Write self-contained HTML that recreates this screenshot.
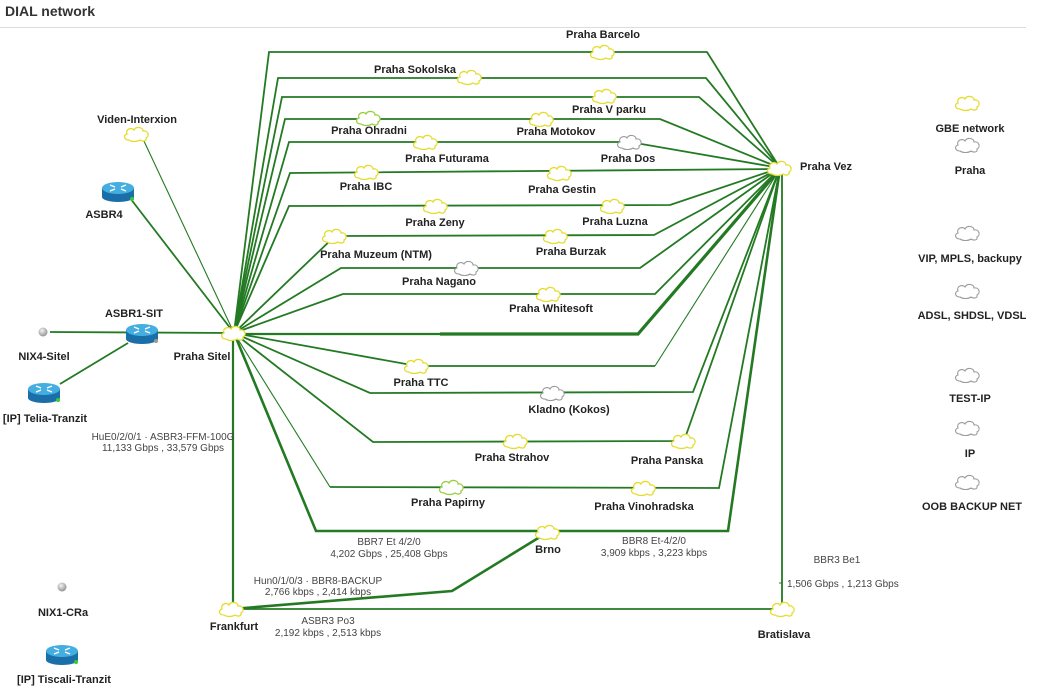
<!DOCTYPE html>
<html><head><meta charset="utf-8">
<style>
html,body{margin:0;padding:0;background:#fff;width:1038px;height:690px;overflow:hidden}
svg{display:block}
.n{font-family:"Liberation Sans",Arial,sans-serif;font-weight:bold;font-size:11px;fill:#222}
.l{font-family:"Liberation Sans",Arial,sans-serif;font-size:10px;fill:#444}
.t{font-family:"Liberation Sans",Arial,sans-serif;font-weight:bold;font-size:14px;fill:#333}
</style></head><body>
<svg width="1038" height="690" viewBox="0 0 1038 690" xmlns="http://www.w3.org/2000/svg">
<defs>
<path id="cl" d="M-8,6 C-13,6 -14,1 -10,0 C-12,-5 -5,-7 -3,-4 C-1,-8 6,-7 6,-3 C11,-4 13,2 9,4 C10,7 6,8 3,6 C0,8 -5,8 -8,6 Z"/>
<g id="rt">
<path d="M-16,-4 L-16,5 A16,5 0 0 0 16,5 L16,-4 Z" fill="#1b6fa8"/>
<ellipse cx="0" cy="-4" rx="16" ry="6" fill="#45aee0"/>
<path d="M-8,-7 L-3,-5 M8,-1 L3,-3 M-8,-1 L-3,-3 M8,-7 L3,-5" stroke="#fff" stroke-width="1.4"/>
</g>
<radialGradient id="gd" cx="40%" cy="35%" r="60%"><stop offset="0" stop-color="#f4f4f4"/><stop offset="1" stop-color="#9a9a9a"/></radialGradient>
</defs>

<text class="t" x="5" y="16">DIAL network</text>
<line x1="0" y1="27.5" x2="1026" y2="27.5" stroke="#ddd" stroke-width="1"/>

<g fill="none" stroke="#237a23" stroke-width="1.8" stroke-linejoin="miter">
<line x1="143" y1="139" x2="234" y2="333" stroke-width="1.1"/>
<line x1="130" y1="198" x2="234" y2="333" stroke-width="1.8"/>
<line x1="50" y1="332" x2="234" y2="333"/>
<line x1="60" y1="384" x2="128" y2="343"/>
<polyline points="234,333 269,52 707,52 780,168"/>
<polyline points="234,333 278,78 706,78 780,168"/>
<polyline points="234,333 282,97 699,97 780,168"/>
<polyline points="234,333 285,119 660,119 780,168"/>
<polyline points="234,333 289,142 630,142 780,168"/>
<polyline points="234,333 290,173 780,169"/>
<polyline points="234,333 289,206 670,205 780,168"/>
<polyline points="234,333 335,236 654,235 780,168"/>
<polyline points="234,333 341,268 640,268 780,168"/>
<polyline points="234,333 343,294 655,294 780,168"/>
<polyline points="234,334 440,334" stroke-width="2.2"/>
<polyline points="440,334 638,334 780,169" stroke-width="3.2"/>
<polyline points="234,333 417,366 655,366"/>
<line x1="655" y1="366" x2="780" y2="169" stroke-width="1.1"/>
<polyline points="234,333 370,393 693,392 780,168"/>
<polyline points="234,333 373,442 684,441 780,168"/>
<polyline points="234,333 330,487" stroke-width="1.1"/>
<polyline points="330,487 719,488 780,168"/>
<polyline points="234,333 316,531 728,531 780,168" stroke-width="2.6"/>
<line x1="233" y1="333" x2="233" y2="609" stroke-width="2.2"/>
<polyline points="232,609 452,591 548,532" stroke-width="2.6"/>
<line x1="232" y1="609" x2="783" y2="609"/>
<line x1="782" y1="168" x2="782" y2="609"/>
<line x1="779" y1="583" x2="782" y2="583" stroke-width="1"/>
</g>

<g fill="#fff" stroke="#e4dc2c" stroke-width="1.3">
<use href="#cl" x="137" y="134"/>
<use href="#cl" x="603" y="52"/>
<use href="#cl" x="470" y="77"/>
<use href="#cl" x="605" y="96"/>
<use href="#cl" x="542" y="119"/>
<use href="#cl" x="426" y="142"/>
<use href="#cl" x="367" y="172"/>
<use href="#cl" x="560" y="173"/>
<use href="#cl" x="436" y="206"/>
<use href="#cl" x="613" y="206"/>
<use href="#cl" x="335" y="236"/>
<use href="#cl" x="556" y="236"/>
<use href="#cl" x="549" y="294"/>
<use href="#cl" x="234" y="333"/>
<use href="#cl" x="780" y="168"/>
<use href="#cl" x="417" y="366"/>
<use href="#cl" x="516" y="441"/>
<use href="#cl" x="684" y="441"/>
<use href="#cl" x="644" y="488"/>
<use href="#cl" x="548" y="532"/>
<use href="#cl" x="232" y="609"/>
<use href="#cl" x="783" y="609"/>
<use href="#cl" x="968" y="103"/>
</g>
<g fill="#fff" stroke="#9acd40" stroke-width="1.3">
<use href="#cl" x="369" y="118"/>
<use href="#cl" x="452" y="487"/>
</g>
<g fill="#fff" stroke="#9a9a9a" stroke-width="1.1">
<use href="#cl" x="630" y="142"/>
<use href="#cl" x="467" y="268"/>
<use href="#cl" x="553" y="393"/>
<use href="#cl" x="968" y="145"/>
<use href="#cl" x="968" y="233"/>
<use href="#cl" x="968" y="291"/>
<use href="#cl" x="968" y="375"/>
<use href="#cl" x="968" y="428"/>
<use href="#cl" x="968" y="482"/>
</g>

<use href="#rt" x="118" y="192"/>
<circle cx="132" cy="199" r="2" fill="#3c3"/>
<use href="#rt" x="142" y="334"/>
<circle cx="156" cy="341" r="2" fill="#999"/>
<use href="#rt" x="44" y="393"/>
<circle cx="58" cy="400" r="2" fill="#3c3"/>
<use href="#rt" x="62" y="655"/>
<circle cx="76" cy="662" r="2" fill="#3c3"/>
<circle cx="43" cy="332" r="4.5" fill="url(#gd)"/>
<circle cx="62" cy="587" r="4.5" fill="url(#gd)"/>

<g class="n" text-anchor="middle">
<text x="137" y="123">Viden-Interxion</text>
<text x="104" y="218">ASBR4</text>
<text x="134" y="317">ASBR1-SIT</text>
<text x="44" y="360">NIX4-Sitel</text>
<text x="45" y="422">[IP] Telia-Tranzit</text>
<text x="202" y="360">Praha Sitel</text>
<text x="63" y="616">NIX1-CRa</text>
<text x="64" y="683">[IP] Tiscali-Tranzit</text>
<text x="234" y="630">Frankfurt</text>
<text x="603" y="38">Praha Barcelo</text>
<text x="415" y="73">Praha Sokolska</text>
<text x="609" y="113">Praha V parku</text>
<text x="369" y="134">Praha Ohradni</text>
<text x="556" y="135">Praha Motokov</text>
<text x="447" y="162">Praha Futurama</text>
<text x="628" y="162">Praha Dos</text>
<text x="366" y="190">Praha IBC</text>
<text x="562" y="193">Praha Gestin</text>
<text x="435" y="226">Praha Zeny</text>
<text x="615" y="225">Praha Luzna</text>
<text x="376" y="258">Praha Muzeum (NTM)</text>
<text x="571" y="255">Praha Burzak</text>
<text x="439" y="285">Praha Nagano</text>
<text x="551" y="312">Praha Whitesoft</text>
<text x="421" y="386">Praha TTC</text>
<text x="569" y="413">Kladno (Kokos)</text>
<text x="512" y="461">Praha Strahov</text>
<text x="667" y="464">Praha Panska</text>
<text x="448" y="506">Praha Papirny</text>
<text x="644" y="510">Praha Vinohradska</text>
<text x="548" y="553">Brno</text>
<text x="784" y="638">Bratislava</text>
<text x="970" y="132">GBE network</text>
<text x="970" y="174">Praha</text>
<text x="970" y="262">VIP, MPLS, backupy</text>
<text x="972" y="319">ADSL, SHDSL, VDSL</text>
<text x="970" y="402">TEST-IP</text>
<text x="970" y="457">IP</text>
<text x="972" y="510">OOB BACKUP NET</text>
</g>
<text class="n" x="800" y="170">Praha Vez</text>

<g class="l" text-anchor="middle">
<text x="163" y="440">HuE0/2/0/1 · ASBR3-FFM-100G</text>
<text x="163" y="451">11,133 Gbps , 33,579 Gbps</text>
<text x="389" y="545">BBR7 Et 4/2/0</text>
<text x="389" y="557">4,202 Gbps , 25,408 Gbps</text>
<text x="318" y="584">Hun0/1/0/3 · BBR8-BACKUP</text>
<text x="318" y="595">2,766 kbps , 2,414 kbps</text>
<text x="328" y="624">ASBR3 Po3</text>
<text x="328" y="636">2,192 kbps , 2,513 kbps</text>
<text x="654" y="544">BBR8 Et-4/2/0</text>
<text x="654" y="556">3,909 kbps , 3,223 kbps</text>
<text x="837" y="563">BBR3 Be1</text>
</g>
<text class="l" x="787" y="587">1,506 Gbps , 1,213 Gbps</text>
</svg>
</body></html>
